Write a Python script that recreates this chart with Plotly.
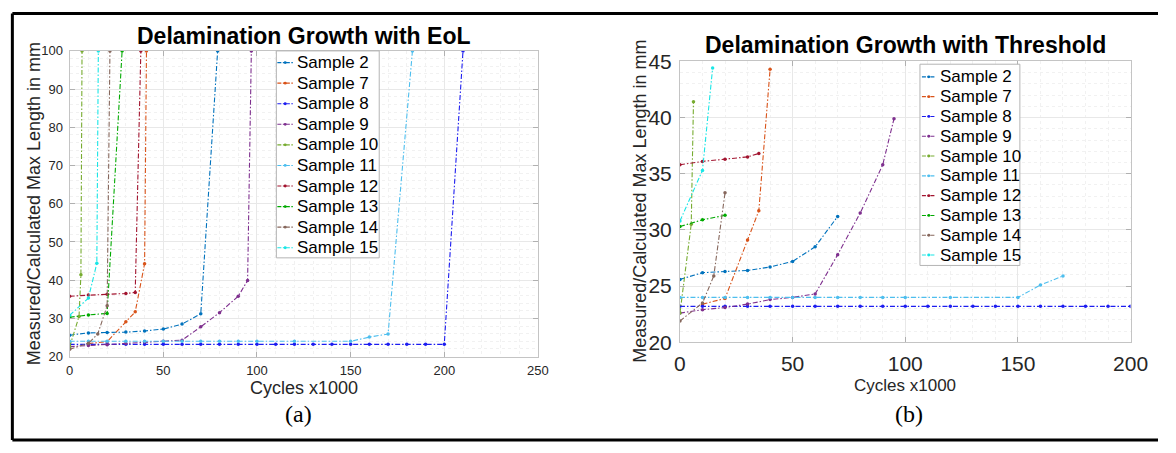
import plotly.graph_objects as go

W, H = 1176, 453

samples = ["Sample 2", "Sample 7", "Sample 8", "Sample 9", "Sample 10",
           "Sample 11", "Sample 12", "Sample 13", "Sample 14", "Sample 15"]
colors = ["#0072BD", "#D95319", "#1c1cf0", "#7E2F8E", "#77AC30",
          "#4DBEEE", "#A2142F", "#00AA00", "#86675c", "#19E6E6"]

# measured / calculated max length (mm) vs cycles (x1000)
s2_x = [0, 10, 20, 30, 40, 50, 60, 70]
s2_y = [25.6, 26.2, 26.3, 26.4, 26.7, 27.2, 28.5, 31.2]
s7_x = [10, 20, 30, 35, 40]
s7_y = [23.4, 23.9, 29.1, 31.7, 44.3]
s8_x = [0, 10, 20, 30, 40, 50, 60, 70, 80, 90, 100, 110, 120, 130, 140,
        150, 160, 170, 180, 190, 200]
s8_y = [23.2, 23.2, 23.2, 23.2, 23.2, 23.2, 23.2, 23.2, 23.2, 23.2, 23.2,
        23.2, 23.2, 23.2, 23.2, 23.2, 23.2, 23.2, 23.2, 23.2, 23.2]
s9_x = [0, 10, 20, 30, 40, 50, 60, 70, 80, 90, 95]
s9_y = [22.6, 22.9, 23.1, 23.4, 23.8, 24.0, 24.3, 27.8, 31.5, 35.8, 39.9]
s10_x = [0, 5, 6]
s10_y = [22.6, 30.5, 41.4]
s11_x = [0, 10, 20, 30, 40, 50, 60, 70, 80, 90, 100, 120, 150, 160, 170]
s11_y = [24.0, 24.0, 24.0, 24.0, 24.0, 24.0, 24.0, 24.0, 24.0, 24.0, 24.0,
         24.0, 24.0, 25.1, 25.9]
s12_x = [0, 10, 20, 30, 35]
s12_y = [35.8, 36.1, 36.3, 36.5, 36.8]
s13_x = [0, 10, 20]
s13_y = [30.3, 30.9, 31.3]
s14_x = [0, 10, 15, 20]
s14_y = [21.9, 23.5, 25.9, 33.3]
s15_x = [0, 10, 14.5]
s15_y = [30.8, 35.3, 44.4]

# end-of-life points (left panel only)
eol_x = [79, 41, 210, 97, 6.6, 183, 38, 28, 21.5, 15.3]
eol_y = [100, 100, 100, 100, 100, 100, 100, 100, 100, 100]

series_x = [s2_x, s7_x, s8_x, s9_x, s10_x, s11_x, s12_x, s13_x, s14_x, s15_x]
series_y = [s2_y, s7_y, s8_y, s9_y, s10_y, s11_y, s12_y, s13_y, s14_y, s15_y]

left_x_ticks = [0, 50, 100, 150, 200, 250]
left_y_ticks = [20, 30, 40, 50, 60, 70, 80, 90, 100]
right_x_ticks = [0, 50, 100, 150, 200]
right_y_ticks = [20, 25, 30, 35, 40, 45]

FONT = "Liberation Sans, Arial, sans-serif"
SERIF = "Liberation Serif, Times New Roman, serif"
DASH = "5px,2px,1.5px,2px"

fig = go.Figure()
for i, name in enumerate(samples):
    fig.add_trace(go.Scatter(
        x=series_x[i] + [eol_x[i]], y=series_y[i] + [eol_y[i]],
        mode="lines+markers", name=name, showlegend=False,
        line=dict(color=colors[i], width=1.1, dash=DASH),
        marker=dict(color=colors[i], size=3.5),
        xaxis="x", yaxis="y"))
for i, name in enumerate(samples):
    fig.add_trace(go.Scatter(
        x=series_x[i], y=series_y[i],
        mode="lines+markers", name=name, showlegend=False,
        line=dict(color=colors[i], width=1.1, dash=DASH),
        marker=dict(color=colors[i], size=3.5),
        xaxis="x2", yaxis="y2"))


def px_x(p):
    return p / W


def px_y(p):
    return 1 - p / H


def axis(domain, rng, ticks, minor_dt, size, anchor, standoff):
    return dict(
        domain=domain, range=rng, anchor=anchor,
        tickvals=ticks, ticktext=[str(v) for v in ticks],
        showline=True, linecolor="#c4c4c4", linewidth=1, mirror="ticks",
        ticks="inside", ticklen=5, tickcolor="#b0b0b0",
        showgrid=True, gridcolor="#e8e8e8", gridwidth=1, zeroline=False,
        minor=dict(dtick=minor_dt, showgrid=True, gridcolor="#f1f1f1", griddash="dot"),
        tickfont=dict(family=FONT, size=size, color="#262626"),
        ticklabelstandoff=standoff,
    )


fig.update_layout(
    width=W, height=H,
    margin=dict(l=0, r=0, t=0, b=0),
    paper_bgcolor="white", plot_bgcolor="white",
    showlegend=False,
    xaxis=axis([px_x(65), px_x(543)], [0, 250], left_x_ticks, 10, 13, "y", 2),
    yaxis=axis([px_y(363), px_y(41)], [20, 100], left_y_ticks, 2, 13, "x", 3),
    xaxis2=axis([px_x(688), px_x(1148)], [0, 200], right_x_ticks, 10, 21, "y2", 2),
    yaxis2=axis([px_y(348), px_y(52)], [20, 45], right_y_ticks, 1, 21, "x2", 3),
)

annos = [
    dict(text="<b>Delamination Growth with EoL</b>", x=px_x(304), y=px_y(25),
         font=dict(family=FONT, size=23, color="black")),
    dict(text="<b>Delamination Growth with Threshold</b>", x=px_x(918), y=px_y(35),
         font=dict(family=FONT, size=23, color="black")),
    dict(text="Measured/Calculated Max Length in mm", x=px_x(28), y=px_y(202),
         textangle=-90, font=dict(family=FONT, size=18, color="#262626")),
    dict(text="Measured/Calculated Max Length in mm", x=px_x(647), y=px_y(199),
         textangle=-90, font=dict(family=FONT, size=18, color="#262626")),
    dict(text="Cycles x1000", x=px_x(304), y=px_y(396),
         font=dict(family=FONT, size=18, color="#262626")),
    dict(text="Cycles x1000", x=px_x(918), y=px_y(394),
         font=dict(family=FONT, size=17, color="#262626")),
    dict(text="(a)", x=px_x(299), y=px_y(424),
         font=dict(family=SERIF, size=24, color="black")),
    dict(text="(b)", x=px_x(922), y=px_y(424),
         font=dict(family=SERIF, size=24, color="black")),
]
for a in annos:
    fig.add_annotation(xref="paper", yref="paper", showarrow=False,
                       xanchor="center", yanchor="middle", **a)

# MATLAB-style legends: (box left, box top, box right, box bottom,
# first row centre, row pitch, symbol x0, symbol x1, text x)
legend_specs = [
    (276, 41, 381, 259, 53.3, 21.67, 277, 293, 295),
    (933, 55, 1035, 267, 68.3, 20.86, 935, 949, 951),
]
for (bx0, by0, bx1, by1, r0, pitch, sx0, sx1, tx) in legend_specs:
    fig.add_shape(type="rect", xref="paper", yref="paper",
                  x0=px_x(bx0), x1=px_x(bx1), y0=px_y(by1), y1=px_y(by0),
                  line=dict(color="#b4b4b4", width=1), fillcolor="white")
    for k, name in enumerate(samples):
        yc = r0 + pitch * k
        fig.add_shape(type="line", xref="paper", yref="paper",
                      x0=px_x(sx0), x1=px_x(sx1), y0=px_y(yc), y1=px_y(yc),
                      line=dict(color=colors[k], width=1.1, dash="4px,1.5px,1.5px,1.5px"))
        xm = (sx0 + sx1) / 2
        fig.add_shape(type="circle", xref="paper", yref="paper",
                      x0=px_x(xm - 1.5), x1=px_x(xm + 1.5),
                      y0=px_y(yc + 1.5), y1=px_y(yc - 1.5),
                      line=dict(color=colors[k], width=0), fillcolor=colors[k])
        fig.add_annotation(xref="paper", yref="paper", showarrow=False,
                           x=px_x(tx), y=px_y(yc), xanchor="left", yanchor="middle",
                           text=name, font=dict(family=FONT, size=17, color="black"))

# outer frame (top, left, bottom edges)
for (x0, y0, x1, y1) in [(6.5, 1.5, 1176, 1.5), (6.5, 1.5, 6.5, 451),
                         (6.5, 451, 1176, 451)]:
    fig.add_shape(type="line", xref="paper", yref="paper",
                  x0=px_x(x0), x1=px_x(x1), y0=px_y(y0), y1=px_y(y1),
                  line=dict(color="black", width=3))

fig.write_html("out.html")
